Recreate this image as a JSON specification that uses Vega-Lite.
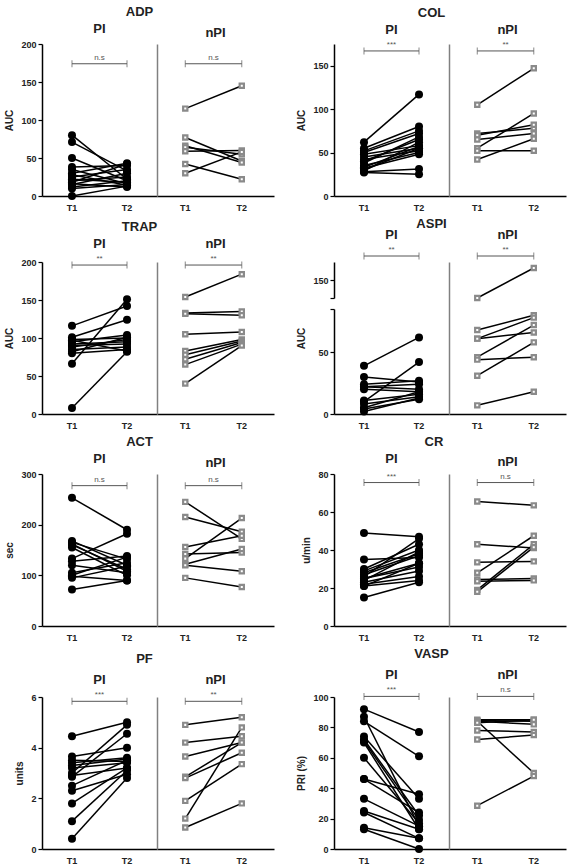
{
"$schema":"https://vega.github.io/schema/vega-lite/v6.json",
"padding":{"left":4,"top":6,"right":1,"bottom":2},
"datasets":{
"pts":[
{"test":"ADP","grp":"PI","id":1,"T1":80,"T2":22},{"test":"ADP","grp":"PI","id":2,"T1":71,"T2":33},{"test":"ADP","grp":"PI","id":3,"T1":50,"T2":20},{"test":"ADP","grp":"PI","id":4,"T1":38,"T2":40},{"test":"ADP","grp":"PI","id":5,"T1":35,"T2":16},{"test":"ADP","grp":"PI","id":6,"T1":30,"T2":43},{"test":"ADP","grp":"PI","id":7,"T1":28,"T2":14},{"test":"ADP","grp":"PI","id":8,"T1":25,"T2":35},{"test":"ADP","grp":"PI","id":9,"T1":22,"T2":18},{"test":"ADP","grp":"PI","id":10,"T1":20,"T2":25},{"test":"ADP","grp":"PI","id":11,"T1":18,"T2":42},{"test":"ADP","grp":"PI","id":12,"T1":16,"T2":12},{"test":"ADP","grp":"PI","id":13,"T1":15,"T2":30},{"test":"ADP","grp":"PI","id":14,"T1":12,"T2":20},{"test":"ADP","grp":"PI","id":15,"T1":10,"T2":15},{"test":"ADP","grp":"PI","id":16,"T1":0,"T2":13},
{"test":"ADP","grp":"nPI","id":1,"T1":115,"T2":145},{"test":"ADP","grp":"nPI","id":2,"T1":77,"T2":46},{"test":"ADP","grp":"nPI","id":3,"T1":66,"T2":44},{"test":"ADP","grp":"nPI","id":4,"T1":64,"T2":55},{"test":"ADP","grp":"nPI","id":5,"T1":59,"T2":60},{"test":"ADP","grp":"nPI","id":6,"T1":42,"T2":22},{"test":"ADP","grp":"nPI","id":7,"T1":30,"T2":58},
{"test":"COL","grp":"PI","id":1,"T1":62,"T2":117},{"test":"COL","grp":"PI","id":2,"T1":55,"T2":80},{"test":"COL","grp":"PI","id":3,"T1":52,"T2":75},{"test":"COL","grp":"PI","id":4,"T1":50,"T2":72},{"test":"COL","grp":"PI","id":5,"T1":48,"T2":58},{"test":"COL","grp":"PI","id":6,"T1":45,"T2":55},{"test":"COL","grp":"PI","id":7,"T1":42,"T2":52},{"test":"COL","grp":"PI","id":8,"T1":40,"T2":65},{"test":"COL","grp":"PI","id":9,"T1":38,"T2":68},{"test":"COL","grp":"PI","id":10,"T1":35,"T2":50},{"test":"COL","grp":"PI","id":11,"T1":32,"T2":48},{"test":"COL","grp":"PI","id":12,"T1":30,"T2":55},{"test":"COL","grp":"PI","id":13,"T1":28,"T2":31},{"test":"COL","grp":"PI","id":14,"T1":27,"T2":25},{"test":"COL","grp":"PI","id":15,"T1":29,"T2":62},{"test":"COL","grp":"PI","id":16,"T1":33,"T2":57},
{"test":"COL","grp":"nPI","id":1,"T1":105,"T2":147},{"test":"COL","grp":"nPI","id":2,"T1":72,"T2":78},{"test":"COL","grp":"nPI","id":3,"T1":70,"T2":82},{"test":"COL","grp":"nPI","id":4,"T1":65,"T2":72},{"test":"COL","grp":"nPI","id":5,"T1":55,"T2":95},{"test":"COL","grp":"nPI","id":6,"T1":52,"T2":52},{"test":"COL","grp":"nPI","id":7,"T1":42,"T2":66},
{"test":"TRAP","grp":"PI","id":1,"T1":116,"T2":142},{"test":"TRAP","grp":"PI","id":2,"T1":101,"T2":124},{"test":"TRAP","grp":"PI","id":3,"T1":98,"T2":100},{"test":"TRAP","grp":"PI","id":4,"T1":95,"T2":104},{"test":"TRAP","grp":"PI","id":5,"T1":92,"T2":95},{"test":"TRAP","grp":"PI","id":6,"T1":90,"T2":92},{"test":"TRAP","grp":"PI","id":7,"T1":88,"T2":98},{"test":"TRAP","grp":"PI","id":8,"T1":85,"T2":88},{"test":"TRAP","grp":"PI","id":9,"T1":82,"T2":101},{"test":"TRAP","grp":"PI","id":10,"T1":80,"T2":85},{"test":"TRAP","grp":"PI","id":11,"T1":66,"T2":151},{"test":"TRAP","grp":"PI","id":12,"T1":8,"T2":82},{"test":"TRAP","grp":"PI","id":13,"T1":97,"T2":83},
{"test":"TRAP","grp":"nPI","id":1,"T1":154,"T2":184},{"test":"TRAP","grp":"nPI","id":2,"T1":133,"T2":135},{"test":"TRAP","grp":"nPI","id":3,"T1":132,"T2":130},{"test":"TRAP","grp":"nPI","id":4,"T1":105,"T2":108},{"test":"TRAP","grp":"nPI","id":5,"T1":83,"T2":98},{"test":"TRAP","grp":"nPI","id":6,"T1":78,"T2":96},{"test":"TRAP","grp":"nPI","id":7,"T1":72,"T2":94},{"test":"TRAP","grp":"nPI","id":8,"T1":65,"T2":92},{"test":"TRAP","grp":"nPI","id":9,"T1":40,"T2":90},
{"test":"ASPI","grp":"PI","id":1,"T1":39,"T2":62},{"test":"ASPI","grp":"PI","id":2,"T1":30,"T2":26},{"test":"ASPI","grp":"PI","id":3,"T1":24,"T2":27},{"test":"ASPI","grp":"PI","id":4,"T1":22,"T2":20},{"test":"ASPI","grp":"PI","id":5,"T1":20,"T2":18},{"test":"ASPI","grp":"PI","id":6,"T1":10,"T2":42},{"test":"ASPI","grp":"PI","id":7,"T1":11,"T2":16},{"test":"ASPI","grp":"PI","id":8,"T1":8,"T2":14},{"test":"ASPI","grp":"PI","id":9,"T1":5,"T2":18},{"test":"ASPI","grp":"PI","id":10,"T1":4,"T2":12},{"test":"ASPI","grp":"PI","id":11,"T1":2,"T2":13},{"test":"ASPI","grp":"PI","id":12,"T1":22,"T2":24},
{"test":"ASPI","grp":"nPI","id":1,"T1":135,"T2":160},{"test":"ASPI","grp":"nPI","id":2,"T1":68,"T2":80},{"test":"ASPI","grp":"nPI","id":3,"T1":61,"T2":78},{"test":"ASPI","grp":"nPI","id":4,"T1":61,"T2":66},{"test":"ASPI","grp":"nPI","id":5,"T1":46,"T2":72},{"test":"ASPI","grp":"nPI","id":6,"T1":44,"T2":46},{"test":"ASPI","grp":"nPI","id":7,"T1":31,"T2":58},{"test":"ASPI","grp":"nPI","id":8,"T1":7,"T2":18},
{"test":"ACT","grp":"PI","id":1,"T1":253,"T2":190},{"test":"ACT","grp":"PI","id":2,"T1":168,"T2":120},{"test":"ACT","grp":"PI","id":3,"T1":165,"T2":132},{"test":"ACT","grp":"PI","id":4,"T1":160,"T2":112},{"test":"ACT","grp":"PI","id":5,"T1":155,"T2":100},{"test":"ACT","grp":"PI","id":6,"T1":133,"T2":182},{"test":"ACT","grp":"PI","id":7,"T1":128,"T2":138},{"test":"ACT","grp":"PI","id":8,"T1":120,"T2":105},{"test":"ACT","grp":"PI","id":9,"T1":105,"T2":125},{"test":"ACT","grp":"PI","id":10,"T1":98,"T2":90},{"test":"ACT","grp":"PI","id":11,"T1":95,"T2":118},{"test":"ACT","grp":"PI","id":12,"T1":72,"T2":90},{"test":"ACT","grp":"PI","id":13,"T1":162,"T2":108},{"test":"ACT","grp":"PI","id":14,"T1":100,"T2":136},
{"test":"ACT","grp":"nPI","id":1,"T1":245,"T2":172},{"test":"ACT","grp":"nPI","id":2,"T1":215,"T2":186},{"test":"ACT","grp":"nPI","id":3,"T1":156,"T2":178},{"test":"ACT","grp":"nPI","id":4,"T1":142,"T2":145},{"test":"ACT","grp":"nPI","id":5,"T1":133,"T2":213},{"test":"ACT","grp":"nPI","id":6,"T1":122,"T2":152},{"test":"ACT","grp":"nPI","id":7,"T1":120,"T2":108},{"test":"ACT","grp":"nPI","id":8,"T1":95,"T2":77},
{"test":"CR","grp":"PI","id":1,"T1":49,"T2":47},{"test":"CR","grp":"PI","id":2,"T1":35,"T2":36},{"test":"CR","grp":"PI","id":3,"T1":30,"T2":43},{"test":"CR","grp":"PI","id":4,"T1":29,"T2":40},{"test":"CR","grp":"PI","id":5,"T1":28,"T2":38},{"test":"CR","grp":"PI","id":6,"T1":26,"T2":46},{"test":"CR","grp":"PI","id":7,"T1":25,"T2":33},{"test":"CR","grp":"PI","id":8,"T1":25,"T2":31},{"test":"CR","grp":"PI","id":9,"T1":24,"T2":39},{"test":"CR","grp":"PI","id":10,"T1":23,"T2":29},{"test":"CR","grp":"PI","id":11,"T1":22,"T2":26},{"test":"CR","grp":"PI","id":12,"T1":21,"T2":24},{"test":"CR","grp":"PI","id":13,"T1":21,"T2":33},{"test":"CR","grp":"PI","id":14,"T1":15,"T2":23},{"test":"CR","grp":"PI","id":15,"T1":27,"T2":37},
{"test":"CR","grp":"nPI","id":1,"T1":65.5,"T2":63.5},{"test":"CR","grp":"nPI","id":2,"T1":43,"T2":41},{"test":"CR","grp":"nPI","id":3,"T1":33.5,"T2":34},{"test":"CR","grp":"nPI","id":4,"T1":28,"T2":47.5},{"test":"CR","grp":"nPI","id":5,"T1":24.5,"T2":25},{"test":"CR","grp":"nPI","id":6,"T1":23.5,"T2":24},{"test":"CR","grp":"nPI","id":7,"T1":19,"T2":43},{"test":"CR","grp":"nPI","id":8,"T1":18,"T2":41.5},
{"test":"PF","grp":"PI","id":1,"T1":4.45,"T2":5.0},{"test":"PF","grp":"PI","id":2,"T1":3.65,"T2":4.0},{"test":"PF","grp":"PI","id":3,"T1":3.5,"T2":3.45},{"test":"PF","grp":"PI","id":4,"T1":3.4,"T2":3.6},{"test":"PF","grp":"PI","id":5,"T1":3.3,"T2":3.55},{"test":"PF","grp":"PI","id":6,"T1":3.2,"T2":3.4},{"test":"PF","grp":"PI","id":7,"T1":3.0,"T2":4.9},{"test":"PF","grp":"PI","id":8,"T1":2.9,"T2":3.2},{"test":"PF","grp":"PI","id":9,"T1":2.85,"T2":4.55},{"test":"PF","grp":"PI","id":10,"T1":2.5,"T2":3.5},{"test":"PF","grp":"PI","id":11,"T1":2.3,"T2":2.95},{"test":"PF","grp":"PI","id":12,"T1":1.8,"T2":3.2},{"test":"PF","grp":"PI","id":13,"T1":1.1,"T2":3.1},{"test":"PF","grp":"PI","id":14,"T1":0.4,"T2":2.8},
{"test":"PF","grp":"nPI","id":1,"T1":4.9,"T2":5.2},{"test":"PF","grp":"nPI","id":2,"T1":4.2,"T2":4.45},{"test":"PF","grp":"nPI","id":3,"T1":3.65,"T2":4.2},{"test":"PF","grp":"nPI","id":4,"T1":2.85,"T2":4.2},{"test":"PF","grp":"nPI","id":5,"T1":2.8,"T2":3.8},{"test":"PF","grp":"nPI","id":6,"T1":1.9,"T2":3.35},{"test":"PF","grp":"nPI","id":7,"T1":1.2,"T2":4.8},{"test":"PF","grp":"nPI","id":8,"T1":0.85,"T2":1.8},
{"test":"VASP","grp":"PI","id":1,"T1":92,"T2":77},{"test":"VASP","grp":"PI","id":2,"T1":87,"T2":15},{"test":"VASP","grp":"PI","id":3,"T1":84,"T2":61},{"test":"VASP","grp":"PI","id":4,"T1":74,"T2":33},{"test":"VASP","grp":"PI","id":5,"T1":71,"T2":19},{"test":"VASP","grp":"PI","id":6,"T1":70,"T2":13},{"test":"VASP","grp":"PI","id":7,"T1":60,"T2":17},{"test":"VASP","grp":"PI","id":8,"T1":46,"T2":36},{"test":"VASP","grp":"PI","id":9,"T1":46,"T2":24},{"test":"VASP","grp":"PI","id":10,"T1":33,"T2":15},{"test":"VASP","grp":"PI","id":11,"T1":25,"T2":13},{"test":"VASP","grp":"PI","id":12,"T1":24,"T2":7},{"test":"VASP","grp":"PI","id":13,"T1":14,"T2":7},{"test":"VASP","grp":"PI","id":14,"T1":13,"T2":0},{"test":"VASP","grp":"PI","id":15,"T1":72,"T2":22},
{"test":"VASP","grp":"nPI","id":1,"T1":85,"T2":85},{"test":"VASP","grp":"nPI","id":2,"T1":84.5,"T2":84},{"test":"VASP","grp":"nPI","id":3,"T1":84,"T2":82},{"test":"VASP","grp":"nPI","id":4,"T1":84,"T2":50},{"test":"VASP","grp":"nPI","id":5,"T1":78,"T2":77},{"test":"VASP","grp":"nPI","id":6,"T1":72,"T2":75},{"test":"VASP","grp":"nPI","id":7,"T1":28.5,"T2":48},{"test":"VASP","grp":"nPI","id":8,"T1":83,"T2":85}
],
"br":[
{"test":"ADP","grp":"PI","T1":174,"T2":174,"lab":"n.s"},{"test":"ADP","grp":"nPI","T1":174,"T2":174,"lab":"n.s"},
{"test":"COL","grp":"PI","T1":167,"T2":167,"lab":"***"},{"test":"COL","grp":"nPI","T1":167,"T2":167,"lab":"**"},
{"test":"TRAP","grp":"PI","T1":196,"T2":196,"lab":"**"},{"test":"TRAP","grp":"nPI","T1":196,"T2":196,"lab":"**"},
{"test":"ASPI","grp":"PI","T1":170,"T2":170,"lab":"**"},{"test":"ASPI","grp":"nPI","T1":170,"T2":170,"lab":"**"},
{"test":"ACT","grp":"PI","T1":277,"T2":277,"lab":"n.s"},{"test":"ACT","grp":"nPI","T1":277,"T2":277,"lab":"n.s"},
{"test":"CR","grp":"PI","T1":75.5,"T2":75.5,"lab":"***"},{"test":"CR","grp":"nPI","T1":75.5,"T2":75.5,"lab":"n.s"},
{"test":"PF","grp":"PI","T1":5.83,"T2":5.83,"lab":"***"},{"test":"PF","grp":"nPI","T1":5.83,"T2":5.83,"lab":"**"},
{"test":"VASP","grp":"PI","T1":100.4,"T2":100.4,"lab":"***"},{"test":"VASP","grp":"nPI","T1":100.4,"T2":100.4,"lab":"n.s"}
]
},
"columns":2,
"spacing":{"row":6,"column":22},
"concat":[
{"title":{"text":"ADP","offset":4},"spacing":0,"hconcat":[
{"width":115,"height":152,"title":"PI",
"encoding":{"x":{"field":"time","type":"ordinal","scale":{"type":"band","domain":["T1","T2"],"paddingInner":0,"paddingOuter":0.045},"axis":{"title":null}},
"y":{"field":"v","type":"quantitative","scale":{"domain":[0,200],"nice":false,"zero":false},"axis":{"title":"AUC","values":[0,50,100,150,200]}}},
"layer":[
{"data":{"name":"pts"},"transform":[{"filter":"datum.test=='ADP'&&datum.grp=='PI'"},{"fold":["T1","T2"],"as":["time","v"]}],
"layer":[{"mark":{"type":"line","color":"black","strokeWidth":1.5},"encoding":{"detail":{"field":"id"}}},{"mark":{"type":"point","shape":"circle","filled":true,"color":"black","size":64,"opacity":1}}]},
{"data":{"name":"br"},"transform":[{"filter":"datum.test=='ADP'&&datum.grp=='PI'"},{"fold":["T1","T2"],"as":["time","v"]}],
"layer":[{"mark":{"type":"line","color":"#555","strokeWidth":1}},{"mark":{"type":"tick","orient":"vertical","color":"#555","size":7,"thickness":1}},
{"transform":[{"filter":"datum.time=='T1'"}],"mark":{"type":"text","fontSize":8,"color":"#555","baseline":"bottom","dy":-2},"encoding":{"x":{"datum":"T2","bandPosition":0},"text":{"field":"lab"}}}]}
]},
{"width":117,"height":152,"title":"nPI",
"encoding":{"x":{"field":"time","type":"ordinal","scale":{"type":"band","domain":["T1","T2"],"paddingInner":0,"paddingOuter":0.035,"align":0},"axis":{"title":null}},
"y":{"field":"v","type":"quantitative","scale":{"domain":[0,200],"nice":false,"zero":false},"axis":{"title":null,"labels":false,"ticks":false,"domainColor":"#808080"}}},
"layer":[
{"data":{"name":"pts"},"transform":[{"filter":"datum.test=='ADP'&&datum.grp=='nPI'"},{"fold":["T1","T2"],"as":["time","v"]}],
"layer":[{"mark":{"type":"line","color":"black","strokeWidth":1.5},"encoding":{"detail":{"field":"id"}}},{"mark":{"type":"point","shape":"square","filled":true,"fill":"white","stroke":"#8a8a8a","strokeWidth":2.2,"size":18,"opacity":1}}]},
{"data":{"name":"br"},"transform":[{"filter":"datum.test=='ADP'&&datum.grp=='nPI'"},{"fold":["T1","T2"],"as":["time","v"]}],
"layer":[{"mark":{"type":"line","color":"#555","strokeWidth":1}},{"mark":{"type":"tick","orient":"vertical","color":"#555","size":7,"thickness":1}},
{"transform":[{"filter":"datum.time=='T1'"}],"mark":{"type":"text","fontSize":8,"color":"#555","baseline":"bottom","dy":-2},"encoding":{"x":{"datum":"T2","bandPosition":0},"text":{"field":"lab"}}}]}
]}
]},
{"title":{"text":"COL","offset":4},"spacing":0,"hconcat":[
{"width":115,"height":152,"title":"PI",
"encoding":{"x":{"field":"time","type":"ordinal","scale":{"type":"band","domain":["T1","T2"],"paddingInner":0,"paddingOuter":0.045},"axis":{"title":null}},
"y":{"field":"v","type":"quantitative","scale":{"domain":[0,175],"nice":false,"zero":false},"axis":{"title":"AUC","values":[0,50,100,150]}}},
"layer":[
{"data":{"name":"pts"},"transform":[{"filter":"datum.test=='COL'&&datum.grp=='PI'"},{"fold":["T1","T2"],"as":["time","v"]}],
"layer":[{"mark":{"type":"line","color":"black","strokeWidth":1.5},"encoding":{"detail":{"field":"id"}}},{"mark":{"type":"point","shape":"circle","filled":true,"color":"black","size":64,"opacity":1}}]},
{"data":{"name":"br"},"transform":[{"filter":"datum.test=='COL'&&datum.grp=='PI'"},{"fold":["T1","T2"],"as":["time","v"]}],
"layer":[{"mark":{"type":"line","color":"#555","strokeWidth":1}},{"mark":{"type":"tick","orient":"vertical","color":"#555","size":7,"thickness":1}},
{"transform":[{"filter":"datum.time=='T1'"}],"mark":{"type":"text","fontSize":8,"color":"#555","baseline":"bottom","dy":-2},"encoding":{"x":{"datum":"T2","bandPosition":0},"text":{"field":"lab"}}}]}
]},
{"width":117,"height":152,"title":"nPI",
"encoding":{"x":{"field":"time","type":"ordinal","scale":{"type":"band","domain":["T1","T2"],"paddingInner":0,"paddingOuter":0.035,"align":0},"axis":{"title":null}},
"y":{"field":"v","type":"quantitative","scale":{"domain":[0,175],"nice":false,"zero":false},"axis":{"title":null,"labels":false,"ticks":false,"domainColor":"#808080"}}},
"layer":[
{"data":{"name":"pts"},"transform":[{"filter":"datum.test=='COL'&&datum.grp=='nPI'"},{"fold":["T1","T2"],"as":["time","v"]}],
"layer":[{"mark":{"type":"line","color":"black","strokeWidth":1.5},"encoding":{"detail":{"field":"id"}}},{"mark":{"type":"point","shape":"square","filled":true,"fill":"white","stroke":"#8a8a8a","strokeWidth":2.2,"size":18,"opacity":1}}]},
{"data":{"name":"br"},"transform":[{"filter":"datum.test=='COL'&&datum.grp=='nPI'"},{"fold":["T1","T2"],"as":["time","v"]}],
"layer":[{"mark":{"type":"line","color":"#555","strokeWidth":1}},{"mark":{"type":"tick","orient":"vertical","color":"#555","size":7,"thickness":1}},
{"transform":[{"filter":"datum.time=='T1'"}],"mark":{"type":"text","fontSize":8,"color":"#555","baseline":"bottom","dy":-2},"encoding":{"x":{"datum":"T2","bandPosition":0},"text":{"field":"lab"}}}]}
]}
]},
{"title":{"text":"TRAP","offset":4},"spacing":0,"hconcat":[
{"width":115,"height":152,"title":"PI",
"encoding":{"x":{"field":"time","type":"ordinal","scale":{"type":"band","domain":["T1","T2"],"paddingInner":0,"paddingOuter":0.045},"axis":{"title":null}},
"y":{"field":"v","type":"quantitative","scale":{"domain":[0,200],"nice":false,"zero":false},"axis":{"title":"AUC","values":[0,50,100,150,200]}}},
"layer":[
{"data":{"name":"pts"},"transform":[{"filter":"datum.test=='TRAP'&&datum.grp=='PI'"},{"fold":["T1","T2"],"as":["time","v"]}],
"layer":[{"mark":{"type":"line","color":"black","strokeWidth":1.5},"encoding":{"detail":{"field":"id"}}},{"mark":{"type":"point","shape":"circle","filled":true,"color":"black","size":64,"opacity":1}}]},
{"data":{"name":"br"},"transform":[{"filter":"datum.test=='TRAP'&&datum.grp=='PI'"},{"fold":["T1","T2"],"as":["time","v"]}],
"layer":[{"mark":{"type":"line","color":"#555","strokeWidth":1}},{"mark":{"type":"tick","orient":"vertical","color":"#555","size":7,"thickness":1}},
{"transform":[{"filter":"datum.time=='T1'"}],"mark":{"type":"text","fontSize":8,"color":"#555","baseline":"bottom","dy":-2},"encoding":{"x":{"datum":"T2","bandPosition":0},"text":{"field":"lab"}}}]}
]},
{"width":117,"height":152,"title":"nPI",
"encoding":{"x":{"field":"time","type":"ordinal","scale":{"type":"band","domain":["T1","T2"],"paddingInner":0,"paddingOuter":0.035,"align":0},"axis":{"title":null}},
"y":{"field":"v","type":"quantitative","scale":{"domain":[0,200],"nice":false,"zero":false},"axis":{"title":null,"labels":false,"ticks":false,"domainColor":"#808080"}}},
"layer":[
{"data":{"name":"pts"},"transform":[{"filter":"datum.test=='TRAP'&&datum.grp=='nPI'"},{"fold":["T1","T2"],"as":["time","v"]}],
"layer":[{"mark":{"type":"line","color":"black","strokeWidth":1.5},"encoding":{"detail":{"field":"id"}}},{"mark":{"type":"point","shape":"square","filled":true,"fill":"white","stroke":"#8a8a8a","strokeWidth":2.2,"size":18,"opacity":1}}]},
{"data":{"name":"br"},"transform":[{"filter":"datum.test=='TRAP'&&datum.grp=='nPI'"},{"fold":["T1","T2"],"as":["time","v"]}],
"layer":[{"mark":{"type":"line","color":"#555","strokeWidth":1}},{"mark":{"type":"tick","orient":"vertical","color":"#555","size":7,"thickness":1}},
{"transform":[{"filter":"datum.time=='T1'"}],"mark":{"type":"text","fontSize":8,"color":"#555","baseline":"bottom","dy":-2},"encoding":{"x":{"datum":"T2","bandPosition":0},"text":{"field":"lab"}}}]}
]}
]},
{"title":{"text":"ASPI","offset":2,"dy":4},"spacing":0,"hconcat":[
{"width":115,"height":152,"title":"PI",
"encoding":{"x":{"field":"time","type":"ordinal","scale":{"type":"band","domain":["T1","T2"],"paddingInner":0,"paddingOuter":0.045},"axis":{"title":null}},
"y":{"field":"v","type":"quantitative","scale":{"domain":[0,85,135,165],"range":[152,47,36,0],"nice":false,"zero":false},"axis":{"title":"AUC","values":[0,50,85,135,150],"labelExpr":"datum.value==85||datum.value==135?'':datum.label","domainDash":[105,11,50]}}},
"layer":[
{"data":{"name":"pts"},"transform":[{"filter":"datum.test=='ASPI'&&datum.grp=='PI'"},{"fold":["T1","T2"],"as":["time","v"]}],
"layer":[{"mark":{"type":"line","color":"black","strokeWidth":1.5},"encoding":{"detail":{"field":"id"}}},{"mark":{"type":"point","shape":"circle","filled":true,"color":"black","size":64,"opacity":1}}]},
{"data":{"name":"br"},"transform":[{"filter":"datum.test=='ASPI'&&datum.grp=='PI'"},{"fold":["T1","T2"],"as":["time","v"]}],
"layer":[{"mark":{"type":"line","color":"#555","strokeWidth":1}},{"mark":{"type":"tick","orient":"vertical","color":"#555","size":7,"thickness":1}},
{"transform":[{"filter":"datum.time=='T1'"}],"mark":{"type":"text","fontSize":8,"color":"#555","baseline":"bottom","dy":-2},"encoding":{"x":{"datum":"T2","bandPosition":0},"text":{"field":"lab"}}}]}
]},
{"width":117,"height":152,"title":"nPI",
"encoding":{"x":{"field":"time","type":"ordinal","scale":{"type":"band","domain":["T1","T2"],"paddingInner":0,"paddingOuter":0.035,"align":0},"axis":{"title":null}},
"y":{"field":"v","type":"quantitative","scale":{"domain":[0,85,135,165],"range":[152,47,36,0],"nice":false,"zero":false},"axis":{"title":null,"labels":false,"ticks":false,"domainColor":"#808080"}}},
"layer":[
{"data":{"name":"pts"},"transform":[{"filter":"datum.test=='ASPI'&&datum.grp=='nPI'"},{"fold":["T1","T2"],"as":["time","v"]}],
"layer":[{"mark":{"type":"line","color":"black","strokeWidth":1.5},"encoding":{"detail":{"field":"id"}}},{"mark":{"type":"point","shape":"square","filled":true,"fill":"white","stroke":"#8a8a8a","strokeWidth":2.2,"size":18,"opacity":1}}]},
{"data":{"name":"br"},"transform":[{"filter":"datum.test=='ASPI'&&datum.grp=='nPI'"},{"fold":["T1","T2"],"as":["time","v"]}],
"layer":[{"mark":{"type":"line","color":"#555","strokeWidth":1}},{"mark":{"type":"tick","orient":"vertical","color":"#555","size":7,"thickness":1}},
{"transform":[{"filter":"datum.time=='T1'"}],"mark":{"type":"text","fontSize":8,"color":"#555","baseline":"bottom","dy":-2},"encoding":{"x":{"datum":"T2","bandPosition":0},"text":{"field":"lab"}}}]}
]}
]},
{"title":{"text":"ACT","offset":4},"spacing":0,"hconcat":[
{"width":115,"height":152,"title":"PI",
"encoding":{"x":{"field":"time","type":"ordinal","scale":{"type":"band","domain":["T1","T2"],"paddingInner":0,"paddingOuter":0.045},"axis":{"title":null}},
"y":{"field":"v","type":"quantitative","scale":{"domain":[0,300],"nice":false,"zero":false},"axis":{"title":"sec","values":[0,100,200,300]}}},
"layer":[
{"data":{"name":"pts"},"transform":[{"filter":"datum.test=='ACT'&&datum.grp=='PI'"},{"fold":["T1","T2"],"as":["time","v"]}],
"layer":[{"mark":{"type":"line","color":"black","strokeWidth":1.5},"encoding":{"detail":{"field":"id"}}},{"mark":{"type":"point","shape":"circle","filled":true,"color":"black","size":64,"opacity":1}}]},
{"data":{"name":"br"},"transform":[{"filter":"datum.test=='ACT'&&datum.grp=='PI'"},{"fold":["T1","T2"],"as":["time","v"]}],
"layer":[{"mark":{"type":"line","color":"#555","strokeWidth":1}},{"mark":{"type":"tick","orient":"vertical","color":"#555","size":7,"thickness":1}},
{"transform":[{"filter":"datum.time=='T1'"}],"mark":{"type":"text","fontSize":8,"color":"#555","baseline":"bottom","dy":-2},"encoding":{"x":{"datum":"T2","bandPosition":0},"text":{"field":"lab"}}}]}
]},
{"width":117,"height":152,"title":"nPI",
"encoding":{"x":{"field":"time","type":"ordinal","scale":{"type":"band","domain":["T1","T2"],"paddingInner":0,"paddingOuter":0.035,"align":0},"axis":{"title":null}},
"y":{"field":"v","type":"quantitative","scale":{"domain":[0,300],"nice":false,"zero":false},"axis":{"title":null,"labels":false,"ticks":false,"domainColor":"#808080"}}},
"layer":[
{"data":{"name":"pts"},"transform":[{"filter":"datum.test=='ACT'&&datum.grp=='nPI'"},{"fold":["T1","T2"],"as":["time","v"]}],
"layer":[{"mark":{"type":"line","color":"black","strokeWidth":1.5},"encoding":{"detail":{"field":"id"}}},{"mark":{"type":"point","shape":"square","filled":true,"fill":"white","stroke":"#8a8a8a","strokeWidth":2.2,"size":18,"opacity":1}}]},
{"data":{"name":"br"},"transform":[{"filter":"datum.test=='ACT'&&datum.grp=='nPI'"},{"fold":["T1","T2"],"as":["time","v"]}],
"layer":[{"mark":{"type":"line","color":"#555","strokeWidth":1}},{"mark":{"type":"tick","orient":"vertical","color":"#555","size":7,"thickness":1}},
{"transform":[{"filter":"datum.time=='T1'"}],"mark":{"type":"text","fontSize":8,"color":"#555","baseline":"bottom","dy":-2},"encoding":{"x":{"datum":"T2","bandPosition":0},"text":{"field":"lab"}}}]}
]}
]},
{"title":{"text":"CR","offset":4},"spacing":0,"hconcat":[
{"width":115,"height":152,"title":"PI",
"encoding":{"x":{"field":"time","type":"ordinal","scale":{"type":"band","domain":["T1","T2"],"paddingInner":0,"paddingOuter":0.045},"axis":{"title":null}},
"y":{"field":"v","type":"quantitative","scale":{"domain":[0,80],"nice":false,"zero":false},"axis":{"title":"u/min","values":[0,20,40,60,80]}}},
"layer":[
{"data":{"name":"pts"},"transform":[{"filter":"datum.test=='CR'&&datum.grp=='PI'"},{"fold":["T1","T2"],"as":["time","v"]}],
"layer":[{"mark":{"type":"line","color":"black","strokeWidth":1.5},"encoding":{"detail":{"field":"id"}}},{"mark":{"type":"point","shape":"circle","filled":true,"color":"black","size":64,"opacity":1}}]},
{"data":{"name":"br"},"transform":[{"filter":"datum.test=='CR'&&datum.grp=='PI'"},{"fold":["T1","T2"],"as":["time","v"]}],
"layer":[{"mark":{"type":"line","color":"#555","strokeWidth":1}},{"mark":{"type":"tick","orient":"vertical","color":"#555","size":7,"thickness":1}},
{"transform":[{"filter":"datum.time=='T1'"}],"mark":{"type":"text","fontSize":8,"color":"#555","baseline":"bottom","dy":-2},"encoding":{"x":{"datum":"T2","bandPosition":0},"text":{"field":"lab"}}}]}
]},
{"width":117,"height":152,"title":"nPI",
"encoding":{"x":{"field":"time","type":"ordinal","scale":{"type":"band","domain":["T1","T2"],"paddingInner":0,"paddingOuter":0.035,"align":0},"axis":{"title":null}},
"y":{"field":"v","type":"quantitative","scale":{"domain":[0,80],"nice":false,"zero":false},"axis":{"title":null,"labels":false,"ticks":false,"domainColor":"#808080"}}},
"layer":[
{"data":{"name":"pts"},"transform":[{"filter":"datum.test=='CR'&&datum.grp=='nPI'"},{"fold":["T1","T2"],"as":["time","v"]}],
"layer":[{"mark":{"type":"line","color":"black","strokeWidth":1.5},"encoding":{"detail":{"field":"id"}}},{"mark":{"type":"point","shape":"square","filled":true,"fill":"white","stroke":"#8a8a8a","strokeWidth":2.2,"size":18,"opacity":1}}]},
{"data":{"name":"br"},"transform":[{"filter":"datum.test=='CR'&&datum.grp=='nPI'"},{"fold":["T1","T2"],"as":["time","v"]}],
"layer":[{"mark":{"type":"line","color":"#555","strokeWidth":1}},{"mark":{"type":"tick","orient":"vertical","color":"#555","size":7,"thickness":1}},
{"transform":[{"filter":"datum.time=='T1'"}],"mark":{"type":"text","fontSize":8,"color":"#555","baseline":"bottom","dy":-2},"encoding":{"x":{"datum":"T2","bandPosition":0},"text":{"field":"lab"}}}]}
]}
]},
{"title":{"text":"PF","offset":8},"spacing":0,"hconcat":[
{"width":115,"height":152,"title":"PI",
"encoding":{"x":{"field":"time","type":"ordinal","scale":{"type":"band","domain":["T1","T2"],"paddingInner":0,"paddingOuter":0.045},"axis":{"title":null}},
"y":{"field":"v","type":"quantitative","scale":{"domain":[0,6],"nice":false,"zero":false},"axis":{"title":"units","values":[0,2,4,6]}}},
"layer":[
{"data":{"name":"pts"},"transform":[{"filter":"datum.test=='PF'&&datum.grp=='PI'"},{"fold":["T1","T2"],"as":["time","v"]}],
"layer":[{"mark":{"type":"line","color":"black","strokeWidth":1.5},"encoding":{"detail":{"field":"id"}}},{"mark":{"type":"point","shape":"circle","filled":true,"color":"black","size":64,"opacity":1}}]},
{"data":{"name":"br"},"transform":[{"filter":"datum.test=='PF'&&datum.grp=='PI'"},{"fold":["T1","T2"],"as":["time","v"]}],
"layer":[{"mark":{"type":"line","color":"#555","strokeWidth":1}},{"mark":{"type":"tick","orient":"vertical","color":"#555","size":7,"thickness":1}},
{"transform":[{"filter":"datum.time=='T1'"}],"mark":{"type":"text","fontSize":8,"color":"#555","baseline":"bottom","dy":-2},"encoding":{"x":{"datum":"T2","bandPosition":0},"text":{"field":"lab"}}}]}
]},
{"width":117,"height":152,"title":"nPI",
"encoding":{"x":{"field":"time","type":"ordinal","scale":{"type":"band","domain":["T1","T2"],"paddingInner":0,"paddingOuter":0.035,"align":0},"axis":{"title":null}},
"y":{"field":"v","type":"quantitative","scale":{"domain":[0,6],"nice":false,"zero":false},"axis":{"title":null,"labels":false,"ticks":false,"domainColor":"#808080"}}},
"layer":[
{"data":{"name":"pts"},"transform":[{"filter":"datum.test=='PF'&&datum.grp=='nPI'"},{"fold":["T1","T2"],"as":["time","v"]}],
"layer":[{"mark":{"type":"line","color":"black","strokeWidth":1.5},"encoding":{"detail":{"field":"id"}}},{"mark":{"type":"point","shape":"square","filled":true,"fill":"white","stroke":"#8a8a8a","strokeWidth":2.2,"size":18,"opacity":1}}]},
{"data":{"name":"br"},"transform":[{"filter":"datum.test=='PF'&&datum.grp=='nPI'"},{"fold":["T1","T2"],"as":["time","v"]}],
"layer":[{"mark":{"type":"line","color":"#555","strokeWidth":1}},{"mark":{"type":"tick","orient":"vertical","color":"#555","size":7,"thickness":1}},
{"transform":[{"filter":"datum.time=='T1'"}],"mark":{"type":"text","fontSize":8,"color":"#555","baseline":"bottom","dy":-2},"encoding":{"x":{"datum":"T2","bandPosition":0},"text":{"field":"lab"}}}]}
]}
]},
{"title":{"text":"VASP","offset":8},"spacing":0,"hconcat":[
{"width":115,"height":152,"title":"PI",
"encoding":{"x":{"field":"time","type":"ordinal","scale":{"type":"band","domain":["T1","T2"],"paddingInner":0,"paddingOuter":0.045},"axis":{"title":null}},
"y":{"field":"v","type":"quantitative","scale":{"domain":[0,100],"nice":false,"zero":false},"axis":{"title":"PRI (%)","values":[0,20,40,60,80,100]}}},
"layer":[
{"data":{"name":"pts"},"transform":[{"filter":"datum.test=='VASP'&&datum.grp=='PI'"},{"fold":["T1","T2"],"as":["time","v"]}],
"layer":[{"mark":{"type":"line","color":"black","strokeWidth":1.5},"encoding":{"detail":{"field":"id"}}},{"mark":{"type":"point","shape":"circle","filled":true,"color":"black","size":64,"opacity":1}}]},
{"data":{"name":"br"},"transform":[{"filter":"datum.test=='VASP'&&datum.grp=='PI'"},{"fold":["T1","T2"],"as":["time","v"]}],
"layer":[{"mark":{"type":"line","color":"#555","strokeWidth":1}},{"mark":{"type":"tick","orient":"vertical","color":"#555","size":7,"thickness":1}},
{"transform":[{"filter":"datum.time=='T1'"}],"mark":{"type":"text","fontSize":8,"color":"#555","baseline":"bottom","dy":-2},"encoding":{"x":{"datum":"T2","bandPosition":0},"text":{"field":"lab"}}}]}
]},
{"width":117,"height":152,"title":"nPI",
"encoding":{"x":{"field":"time","type":"ordinal","scale":{"type":"band","domain":["T1","T2"],"paddingInner":0,"paddingOuter":0.035,"align":0},"axis":{"title":null}},
"y":{"field":"v","type":"quantitative","scale":{"domain":[0,100],"nice":false,"zero":false},"axis":{"title":null,"labels":false,"ticks":false,"domainColor":"#808080"}}},
"layer":[
{"data":{"name":"pts"},"transform":[{"filter":"datum.test=='VASP'&&datum.grp=='nPI'"},{"fold":["T1","T2"],"as":["time","v"]}],
"layer":[{"mark":{"type":"line","color":"black","strokeWidth":1.5},"encoding":{"detail":{"field":"id"}}},{"mark":{"type":"point","shape":"square","filled":true,"fill":"white","stroke":"#8a8a8a","strokeWidth":2.2,"size":18,"opacity":1}}]},
{"data":{"name":"br"},"transform":[{"filter":"datum.test=='VASP'&&datum.grp=='nPI'"},{"fold":["T1","T2"],"as":["time","v"]}],
"layer":[{"mark":{"type":"line","color":"#555","strokeWidth":1}},{"mark":{"type":"tick","orient":"vertical","color":"#555","size":7,"thickness":1}},
{"transform":[{"filter":"datum.time=='T1'"}],"mark":{"type":"text","fontSize":8,"color":"#555","baseline":"bottom","dy":-2},"encoding":{"x":{"datum":"T2","bandPosition":0},"text":{"field":"lab"}}}]}
]}
]}
],
"config":{
"font":"Liberation Sans",
"view":{"stroke":null},
"axis":{"domainColor":"black","domainWidth":1.5,"tickColor":"black","tickWidth":1.2,"tickSize":4,"labelFontSize":9,"labelFontWeight":"bold","labelColor":"#222","titleFontSize":10,"titleFontWeight":"bold","titleColor":"#222","grid":false},
"axisX":{"ticks":false,"labelPadding":7,"labelAngle":0},
"axisY":{"labelPadding":2,"titlePadding":6},
"title":{"fontSize":13,"fontWeight":"bold","color":"#222","anchor":"middle","offset":0}
}
}
